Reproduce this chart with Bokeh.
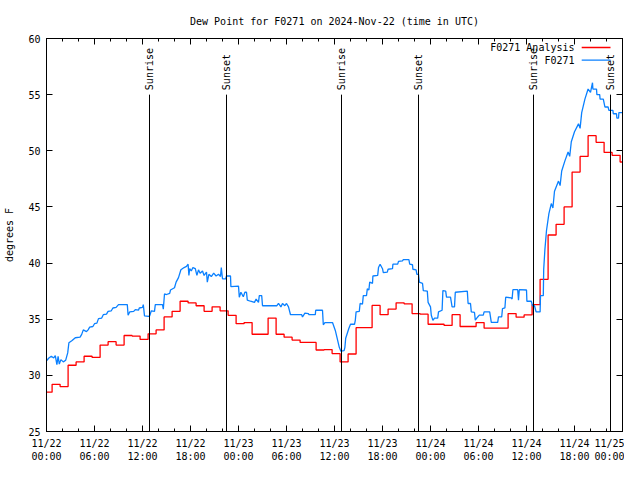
import math
from bokeh.plotting import figure
from bokeh.models import Range1d, FixedTicker, LinearAxis
from bokeh.core.properties import value
from bokeh.embed import file_html
from bokeh.resources import INLINE

# ---------------- data ----------------
title_text = "Dew Point for F0271 on 2024-Nov-22 (time in UTC)"
y_label = "degrees F"

x_tick_hours = [0, 6, 12, 18, 24, 30, 36, 42, 48, 54, 60, 66, 72]
x_tick_labels = ["11/22\n00:00", "11/22\n06:00", "11/22\n12:00", "11/22\n18:00",
                 "11/23\n00:00", "11/23\n06:00", "11/23\n12:00", "11/23\n18:00",
                 "11/24\n00:00", "11/24\n06:00", "11/24\n12:00", "11/24\n18:00",
                 "11/25\n00:00"]
x_minor_hours = list(range(0, 73, 2))
y_ticks = [25, 30, 35, 40, 45, 50, 55, 60]

sun_event_hours = [12.875, 22.5, 36.875, 46.5, 60.875, 70.5]
sun_event_labels = ["Sunrise", "Sunset", "Sunrise", "Sunset", "Sunrise", "Sunset"]

series_names = ["F0271 Analysis", "F0271"]

# hourly analysis values (hour 0 .. 72)
analysis_values = [
    28.5, 29.2, 29.0, 30.9, 31.2, 31.7, 31.6, 32.7, 33.0, 32.7,
    33.55, 33.5, 33.2, 33.7, 34.05, 35.2, 35.7, 36.6, 36.45, 36.2,
    35.7, 36.1, 35.75, 35.35, 34.6, 34.7, 33.66, 33.66, 35.1, 33.66,
    33.4, 33.14, 32.93, 32.93, 32.26, 32.3, 31.94, 31.2, 31.9, 34.25,
    34.25, 36.23, 35.4, 35.9, 36.46, 36.37, 35.5, 35.45, 34.55, 34.55,
    34.45, 35.4, 34.35, 34.35, 34.7, 34.2, 34.2, 34.2, 35.5, 35.18,
    35.38, 36.3, 38.55, 42.5, 43.45, 45.0, 48.1, 49.5, 51.35, 50.75,
    49.85, 49.6, 49.0,
]

# observations (hour since 11/22 00:00, dew point F)
obs_hours = [
    0.0, 0.3, 0.6, 0.9, 1.1, 1.3, 1.45, 1.6, 1.8, 2.1, 2.4, 2.65, 2.8, 3.2, 3.6,
    4.2, 4.4, 4.6, 5.0, 5.2, 5.4, 5.8, 6.0, 6.3, 6.5, 6.9, 7.1, 7.5, 7.7, 8.1,
    8.3, 8.7, 9.0, 10.1, 10.2, 10.4, 10.9, 11.1, 11.5, 11.6, 12.0, 12.1, 12.25,
    12.75, 12.9, 13.1, 13.5, 13.6, 14.5, 14.6, 14.75, 15.0, 15.4, 15.5, 16.0,
    16.2, 16.5, 16.8, 17.2, 17.5, 17.7, 17.8, 17.9, 18.1, 18.3, 18.6, 18.8,
    19.0, 19.2, 19.5, 19.7, 20.0, 20.1, 20.3, 20.6, 20.9, 21.2, 21.5, 21.75,
    21.85, 22.0, 22.4, 22.5, 23.0, 23.05, 24.0, 24.1, 24.3, 24.6, 24.8, 25.0,
    25.1, 25.5, 26.0, 26.2, 26.5, 26.6, 26.9, 27.0, 28.8, 29.0, 29.3, 29.5,
    29.8, 30.0, 30.25, 30.5, 31.9, 32.0, 32.3, 32.75, 32.8, 33.6, 33.65, 34.5,
    34.6, 34.8, 35.75, 36.1, 36.3, 36.6, 36.8, 37.2, 37.3, 37.4, 37.8, 38.0,
    38.5, 38.6, 38.7, 39.1, 39.2, 39.5, 39.6, 40.0, 40.1, 40.3, 40.4, 40.75,
    40.8, 41.4, 41.5, 41.7, 42.0, 42.1, 42.6, 42.7, 43.25, 43.3, 43.9, 44.0,
    44.5, 44.6, 45.3, 45.4, 45.75, 45.8, 46.2, 46.3, 46.5, 46.6, 47.0, 47.1,
    47.6, 47.7, 48.0, 48.1, 48.3, 48.5, 48.9, 49.0, 49.45, 49.55, 49.9, 50.0,
    50.5, 50.7, 51.0, 51.1, 52.6, 52.7, 53.0, 53.1, 53.5, 53.6, 53.9, 54.1,
    54.6, 54.7, 55.4, 55.6, 56.4, 56.5, 56.9, 57.0, 57.3, 57.4, 58.1, 58.2,
    58.3, 58.9, 59.0, 59.1, 60.0, 60.05, 60.6, 60.75, 61.0, 61.2, 61.7, 61.75,
    62.1, 62.15, 62.3, 62.5, 62.8, 63.1, 63.3, 63.5, 64.0, 64.2, 64.4, 64.8,
    65.2, 65.4, 65.6, 66.0, 66.5, 66.7, 66.9, 67.3, 67.7, 68.0, 68.25, 68.3,
    68.75, 68.8, 69.15, 69.2, 69.6, 69.8, 70.2, 70.3, 70.8, 70.85, 71.25, 71.3,
    71.5, 71.55, 72.0,
]
obs_values = [
    31.3, 31.55, 31.7, 31.55, 31.75, 30.95, 31.7, 31.0, 31.4, 31.2, 31.35, 32.0,
    32.9, 33.1, 33.35, 33.4, 33.65, 34.05, 33.9, 34.05, 34.3, 34.35, 34.6, 34.65,
    35.05, 35.1, 35.4, 35.45, 35.7, 35.75, 36.0, 36.05, 36.3, 36.3, 35.35, 35.65,
    35.7, 35.85, 35.8, 36.0, 36.05, 36.3, 35.3, 35.25, 35.3, 35.75, 35.7, 36.3,
    36.3, 35.9, 37.25, 37.2, 37.3, 37.6, 37.8, 38.3, 38.7, 39.4, 39.6, 39.7,
    39.9, 38.9, 39.5, 39.3, 39.6, 39.5, 38.9, 39.4, 39.1, 39.3, 38.9, 39.2,
    38.3, 39.0, 38.8, 39.1, 38.85, 39.0, 38.8, 39.6, 38.6, 38.6, 38.85, 38.85,
    37.9, 37.95, 36.95, 37.4, 37.0, 37.4, 37.4, 36.7, 36.6, 36.5, 36.8, 36.5,
    37.1, 37.1, 36.2, 36.2, 36.4, 36.1, 36.4, 36.2, 36.4, 36.1, 35.4, 35.4,
    35.2, 35.55, 35.5, 35.4, 35.4, 35.8, 35.8, 34.5, 34.7, 34.7, 34.0, 33.4,
    32.5, 32.15, 32.2, 32.5, 33.3, 34.2, 34.55, 34.55, 34.9, 35.65, 35.7, 36.4,
    36.35, 37.1, 37.1, 37.7, 37.6, 38.3, 38.2, 38.85, 38.9, 39.6, 39.9, 39.5,
    39.15, 39.2, 39.45, 39.5, 39.9, 39.9, 40.15, 40.2, 40.3, 40.3, 39.9, 39.85,
    39.45, 39.4, 39.0, 39.0, 38.3, 38.2, 37.55, 37.5, 36.5, 36.1, 35.35, 34.9,
    35.1, 35.1, 35.65, 35.8, 37.55, 37.5, 36.96, 36.96, 36.1, 36.1, 37.4, 37.5,
    36.4, 36.4, 35.65, 35.6, 34.92, 35.2, 35.36, 35.36, 35.65, 35.65, 34.72,
    34.72, 35.2, 35.2, 35.95, 36.0, 36.96, 36.9, 36.8, 37.63, 37.63, 36.7,
    37.63, 37.6, 36.6, 36.6, 36.2, 36.2, 35.65, 35.65, 37.1, 37.1, 39.44, 41.2,
    42.9, 44.4, 45.3, 44.9, 46.4, 47.3, 46.9, 48.2, 49.1, 49.9, 49.5, 50.8,
    51.7, 52.4, 52.0, 53.4, 54.6, 55.5, 55.2, 56.06, 55.5, 55.5, 55.0, 55.0,
    54.6, 54.6, 53.9, 53.9, 53.6, 53.6, 53.3, 53.3, 52.9, 52.9, 53.4, 53.4,
]

# ---------------- styles ----------------
FONT = "DejaVu Sans Mono"
FS = "10px"
RED = "#ff0000"
BLUE = "#0a80ff"
HOUR_SHIFT = 0.3          # analysis changes a bit before the top of the hour
X_START, X_END = 0, 72
Y_START, Y_END = 25, 60
SUN_LINE_TOP = 55
SUN_LABEL_Y = 55.4
LEG_TEXT_X = 66.0
LEG_LINE_X0, LEG_LINE_X1 = 66.9, 70.5
LEG_ROWS_Y = [59.2, 58.08]

p = figure(width=624, height=464, output_backend="svg", toolbar_location=None,
           x_range=Range1d(X_START, X_END), y_range=Range1d(Y_START, Y_END),
           min_border_left=46, min_border_right=2, min_border_top=38,
           min_border_bottom=30, title=title_text)
p.background_fill_color = "white"
p.border_fill_color = "white"
p.outline_line_color = "black"
p.outline_line_width = 1
p.xgrid.visible = False
p.ygrid.visible = False

p.title.align = "center"
p.title.text_font = FONT
p.title.text_font_size = FS
p.title.text_font_style = "normal"
p.title.text_color = "black"
p.title.standoff = 23

xticker = FixedTicker(ticks=x_tick_hours, minor_ticks=x_minor_hours)
yticker = FixedTicker(ticks=y_ticks, minor_ticks=[])

def style_axis(ax, show_labels=True):
    ax.axis_line_color = "black"
    ax.major_tick_line_color = "black"
    ax.minor_tick_line_color = "black"
    ax.major_tick_in = 6
    ax.major_tick_out = 0
    ax.minor_tick_in = 3
    ax.minor_tick_out = 0
    ax.major_label_text_font = FONT
    ax.major_label_text_color = "black" if show_labels else None
    ax.major_label_text_font_size = FS if show_labels else "0px"
    ax.axis_label_text_font = FONT
    ax.axis_label_text_font_size = FS
    ax.axis_label_text_font_style = "normal"
    ax.axis_label_text_color = "black"

xax = p.xaxis[0]
xax.ticker = xticker
xax.major_label_overrides = {h: lab for h, lab in zip(x_tick_hours, x_tick_labels)}
style_axis(xax)
xax.major_label_standoff = 6

yax = p.yaxis[0]
yax.ticker = yticker
style_axis(yax)
yax.major_label_standoff = 6
yax.axis_label = y_label
yax.axis_label_standoff = 10

top_ax = LinearAxis(ticker=xticker)
style_axis(top_ax, show_labels=False)
top_ax.major_label_standoff = 0
p.add_layout(top_ax, "above")

right_ax = LinearAxis(ticker=yticker)
style_axis(right_ax, show_labels=False)
right_ax.major_label_standoff = 0
p.add_layout(right_ax, "right")

# analysis as hourly steps
step_x = [X_START] + [h - HOUR_SHIFT for h in range(1, len(analysis_values))] + [X_END]
step_y = analysis_values + [analysis_values[-1]]
p.step(step_x, step_y, mode="after", line_color=RED, line_width=1.3)

# observations
p.line(obs_hours, obs_values, line_color=BLUE, line_width=1.3)

# sunrise / sunset markers
n = len(sun_event_hours)
p.segment(x0=sun_event_hours, y0=[Y_START] * n, x1=sun_event_hours,
          y1=[SUN_LINE_TOP] * n, line_color="black", line_width=1)
p.text(x=sun_event_hours, y=[SUN_LABEL_Y] * n, text=sun_event_labels,
       angle=math.pi / 2, text_align="left", text_baseline="middle",
       text_font=value(FONT), text_font_size=FS, text_color="black")

# legend (text on the left, sample on the right as in the original)
p.text(x=[LEG_TEXT_X] * 2, y=LEG_ROWS_Y, text=series_names, text_align="right",
       text_baseline="middle", text_font=value(FONT), text_font_size=FS,
       text_color="black")
p.segment(x0=[LEG_LINE_X0] * 2, y0=LEG_ROWS_Y, x1=[LEG_LINE_X1] * 2, y1=LEG_ROWS_Y,
          line_color=[RED, BLUE], line_width=1.3)

open("out.html", "w").write(file_html(p, INLINE))
